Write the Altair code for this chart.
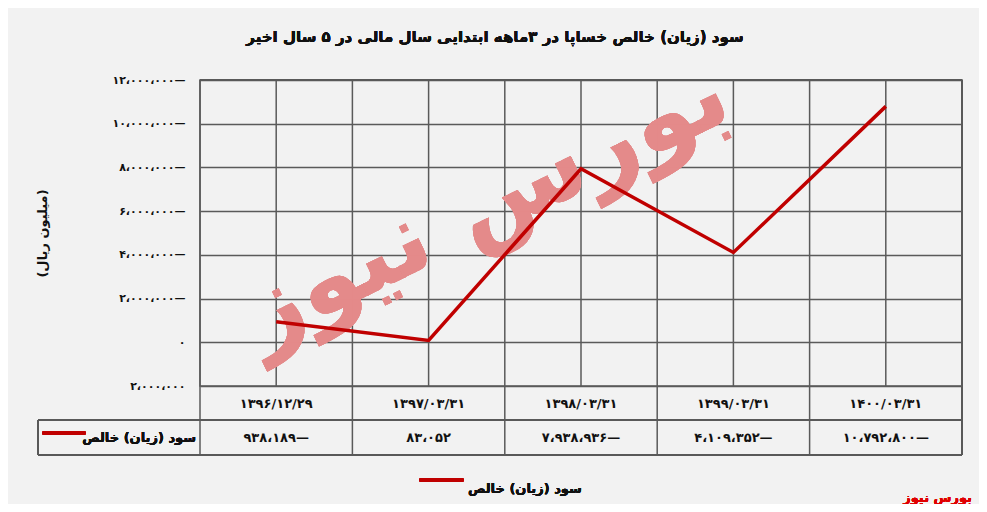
import altair as alt
import pandas as pd

# ---- data ----
categories = ["۱۳۹۶/۱۲/۲۹", "۱۳۹۷/۰۳/۳۱", "۱۳۹۸/۰۳/۳۱", "۱۳۹۹/۰۳/۳۱", "۱۴۰۰/۰۳/۳۱"]
values = [938189, 83052, 7938936, 4109352, 10792800]
value_labels = ["۹۳۸،۱۸۹—", "۸۳،۰۵۲", "۷،۹۳۸،۹۳۶—", "۴،۱۰۹،۳۵۲—", "۱۰،۷۹۲،۸۰۰—"]
y_ticks = [-2000000, 0, 2000000, 4000000, 6000000, 8000000, 10000000, 12000000]
y_tick_labels = ["۲،۰۰۰،۰۰۰", "۰", "۲،۰۰۰،۰۰۰—", "۴،۰۰۰،۰۰۰—", "۶،۰۰۰،۰۰۰—",
                 "۸،۰۰۰،۰۰۰—", "۱۰،۰۰۰،۰۰۰—", "۱۲،۰۰۰،۰۰۰—"]
series_name = "سود (زیان) خالص"
title_text = "سود (زیان) خالص خساپا در ۳ماهه ابتدایی سال مالی در ۵ سال اخیر"
y_title = "(میلیون ریال)"
watermark = "بورس نیوز"

df = pd.DataFrame({"cat": categories, "value": values, "label": value_labels})

FONT = "DejaVu Sans"
GRID = "#5a5a5a"
RED = "#c00000"

label_expr = ""
for v, lab in zip(y_ticks, y_tick_labels):
    label_expr += f"datum.value == {v} ? '{lab}' : "
label_expr += "''"

xs = alt.Scale(domain=categories, paddingInner=0, paddingOuter=0)
ys = alt.Scale(domain=[-2000000, 12000000], nice=False, zero=False)

base = alt.Chart(df)

line = base.mark_line(color=RED, strokeWidth=3.5).encode(
    x=alt.X("cat:N", scale=xs, sort=categories, axis=None),
    y=alt.Y("value:Q", scale=ys, axis=alt.Axis(
        values=y_ticks, labelExpr=label_expr, grid=True, gridColor=GRID, gridWidth=1.5,
        gridOpacity=1, ticks=False, domain=False, labelPadding=15,
        labelFont=FONT, labelFontWeight="bold", labelFontSize=11, labelColor="#111",
        title=y_title, titleFont=FONT, titleFontSize=13, titleFontWeight="bold",
        titleAngle=270, titleX=-158, titleY=153, titleAlign="center",
        titleBaseline="middle", titleColor="#111")),
)

vgrid_edge = base.mark_rule(color=GRID, strokeWidth=1.5).encode(
    x=alt.X("cat:N", scale=xs, sort=categories, bandPosition=0, axis=None),
    y=alt.value(0), y2=alt.value(375),
)
vgrid_mid = base.mark_rule(color=GRID, strokeWidth=1.5).encode(
    x=alt.X("cat:N", scale=xs, sort=categories, bandPosition=0.5, axis=None),
    y=alt.value(0), y2=alt.value(306),
)
right_edge = base.mark_rule(color=GRID, strokeWidth=1.5).encode(
    x=alt.value(762), y=alt.value(0), y2=alt.value(375))
top_edge = base.mark_rule(color=GRID, strokeWidth=1.5).encode(
    x=alt.value(0), x2=alt.value(762), y=alt.value(0))
table_h1 = base.mark_rule(color=GRID, strokeWidth=1.5).encode(
    x=alt.value(-162), x2=alt.value(762), y=alt.value(340))
table_h2 = base.mark_rule(color=GRID, strokeWidth=1.5).encode(
    x=alt.value(-162), x2=alt.value(762), y=alt.value(375))
table_vl = base.mark_rule(color=GRID, strokeWidth=1.5).encode(
    x=alt.value(-162), y=alt.value(340), y2=alt.value(375))

wm = base.mark_text(font=FONT, fontSize=100, fontWeight="bold", color="#e38a8a",
                    fillOpacity=0.8, angle=334, align="center", baseline="middle").encode(
    x=alt.value(285), y=alt.value(125), text=alt.datum(watermark))

title = base.mark_text(font=FONT, fontSize=15, fontWeight="bold", color="#111",
                       align="center", baseline="middle").encode(
    x=alt.value(295), y=alt.value(-43), text=alt.datum(title_text))

cat_text = base.mark_text(font=FONT, fontSize=13, fontWeight="bold", color="#111").encode(
    x=alt.X("cat:N", scale=xs, sort=categories, axis=None),
    y=alt.value(324), text="cat:N")
val_text = base.mark_text(font=FONT, fontSize=13, fontWeight="bold", color="#111").encode(
    x=alt.X("cat:N", scale=xs, sort=categories, axis=None),
    y=alt.value(358), text="label:N")

key_cell = base.mark_rule(color=RED, strokeWidth=4, strokeCap="round").encode(
    x=alt.value(-156), x2=alt.value(-116), y=alt.value(353))
key_text = base.mark_text(font=FONT, fontSize=13, fontWeight="bold", color="#111",
                          align="right").encode(
    x=alt.value(-4), y=alt.value(358), text=alt.datum(series_name))

leg_key = base.mark_rule(color=RED, strokeWidth=4, strokeCap="round").encode(
    x=alt.value(221), x2=alt.value(262), y=alt.value(400))
leg_text = base.mark_text(font=FONT, fontSize=13, fontWeight="bold", color="#111",
                          align="left").encode(
    x=alt.value(268), y=alt.value(409), text=alt.datum(series_name))

brand = base.mark_text(font=FONT, fontSize=13, fontWeight="bold", color="#e00000",
                       align="right").encode(
    x=alt.value(772), y=alt.value(418), text=alt.datum(watermark))

chart = alt.layer(
    vgrid_edge, vgrid_mid, right_edge, top_edge, table_h1, table_h2, table_vl,
    wm, line, title, cat_text, val_text, key_cell, key_text, leg_key, leg_text, brand,
).properties(
    width=762, height=306,
    autosize=alt.AutoSizeParams(type="none"),
    padding={"left": 192, "top": 72, "right": 17, "bottom": 118},
    background="#f2f2f2",
).configure_view(stroke=GRID, strokeWidth=1.5)

chart.save("out.html", embed_options={"renderer": "svg", "actions": False})
